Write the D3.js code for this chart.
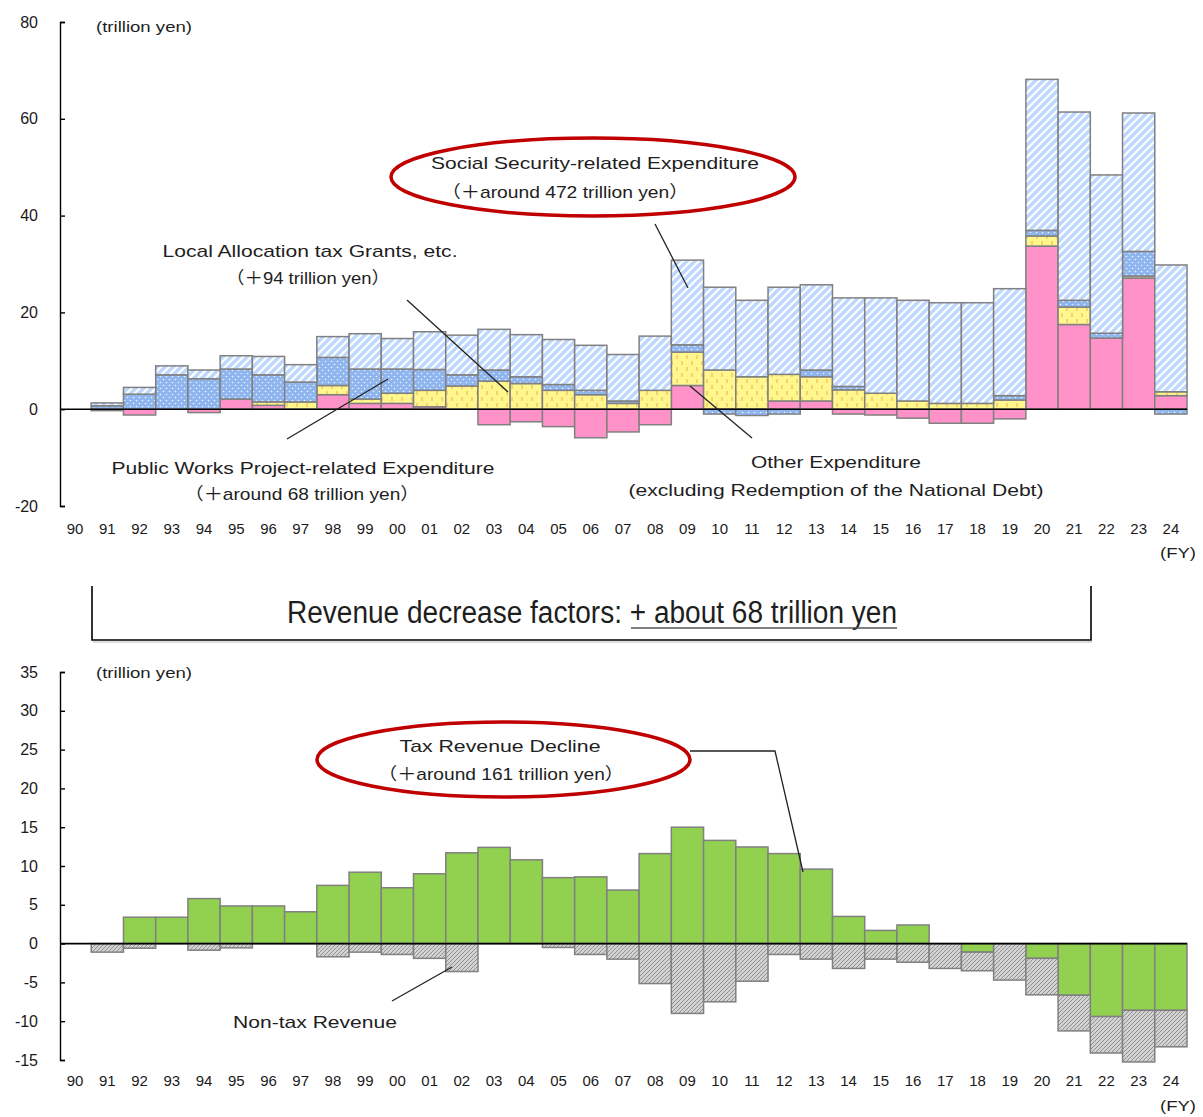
<!DOCTYPE html>
<html><head><meta charset="utf-8">
<script src="https://cdn.jsdelivr.net/npm/d3@7"></script>
<style>
body{margin:0;background:#fff;}
svg{display:block;font-family:"Liberation Sans",Arial,"Noto Sans CJK JP",sans-serif;}
</style></head>
<body>
<svg id="chart" width="1203" height="1117"></svg>
<script>
const years = ["90","91","92","93","94","95","96","97","98","99","00","01","02","03","04","05","06","07","08","09","10","11","12","13","14","15","16","17","18","19","20","21","22","23","24"];
// Expenditure increase factors (trillion yen)
const otherExp    = [0,-0.3,-1.2,0,-0.7,2.1,0.8,0,3.0,1.2,1.2,0.5,0,-3.2,-2.6,-3.6,-5.9,-4.7,-3.2,4.9,0,0,1.7,1.7,-1.0,-1.2,-1.85,-2.9,-2.9,-2.0,33.7,17.5,14.7,27.1,2.8];
const localAlloc  = [0,0,0,0,0,0,0.7,1.5,1.9,0.9,2.1,3.4,4.8,5.8,5.3,3.9,3.0,1.2,3.9,6.9,8.1,6.7,5.5,5.0,4.0,3.3,1.7,1.2,1.2,1.9,2.1,3.6,0,0.4,0.8];
const publicWorks = [0,0.7,3.1,7.1,6.3,6.2,5.6,4.1,5.8,6.2,5.0,4.3,2.3,2.3,1.4,1.2,0.9,0.5,0,1.5,-1.0,-1.3,-1.0,1.4,0.7,0,0,0,0,0.9,1.15,1.4,1.0,5.1,-1.0];
const socialSec   = [0,0.6,1.4,1.85,1.8,2.75,3.8,3.6,4.3,7.3,6.3,7.8,8.2,8.4,8.7,9.3,9.3,9.6,11.2,17.5,17.1,15.8,18.0,17.6,18.3,19.7,20.8,20.8,20.8,22.1,31.2,38.9,32.7,28.6,26.2];
// Revenue decrease factors (trillion yen)
const taxDecline  = [0,0,3.4,3.4,5.8,4.85,4.85,4.1,7.5,9.2,7.2,9.0,11.7,12.4,10.8,8.5,8.6,6.9,11.6,15.0,13.3,12.45,11.6,9.6,3.5,1.7,2.4,0,-1.1,0,-1.9,-6.65,-9.4,-8.6,-8.6];
const nonTax      = [0,-1.1,-0.6,0,-0.85,-0.55,0,0,-1.7,-1.1,-1.4,-1.9,-3.6,0,0,-0.5,-1.4,-2.0,-5.15,-9.0,-7.5,-4.85,-1.4,-2.0,-3.2,-2.0,-2.4,-3.2,-2.4,-4.7,-4.7,-4.6,-4.7,-6.65,-4.7];
const topTicks = [80,60,40,20,0,-20];
const botTicks = [35,30,25,20,15,10,5,0,-5,-10,-15];

const svg = d3.select("#chart");
const defs = svg.append("defs");

// patterns
function pat(id, w, h, bg, draw){
  const p = defs.append("pattern").attr("id",id).attr("patternUnits","userSpaceOnUse").attr("width",w).attr("height",h);
  p.append("rect").attr("width",w).attr("height",h).attr("fill",bg);
  draw(p);
}
pat("pSocial",8,8,"#bed7fc",p=>{
  p.append("path").attr("d","M-2,2 L2,-2 M0,8 L8,0 M6,10 L10,6").attr("stroke","#ffffff").attr("stroke-width",2.2);
});
pat("pPublic",6,6,"#8fb5ef",p=>{
  p.append("circle").attr("cx",1.5).attr("cy",1.5).attr("r",0.8).attr("fill","#eef4ff");
  p.append("circle").attr("cx",4.5).attr("cy",4.5).attr("r",0.8).attr("fill","#eef4ff");
});
pat("pLocal",10,12,"#fff68e",p=>{
  p.append("line").attr("x1",2).attr("x2",2).attr("y1",1).attr("y2",5).attr("stroke","#f2b84a").attr("stroke-width",1.1);
  p.append("line").attr("x1",7).attr("x2",7).attr("y1",7).attr("y2",11).attr("stroke","#f2b84a").attr("stroke-width",1.1);
});
pat("pNonTax",4,4,"#d2d2d2",p=>{
  p.append("path").attr("d","M-1,1 L1,-1 M0,4 L4,0 M3,5 L5,3").attr("stroke","#8a8a8a").attr("stroke-width",0.9);
});

const x = d3.scaleBand().domain(years).range([59,1187]).padding(0);
const yTop = d3.scaleLinear().domain([-20,80]).range([506,22]);
const yBot = d3.scaleLinear().domain([-15,35]).range([1060,672]);

const fill = {other:"#ff93c9", local:"url(#pLocal)", publicW:"url(#pPublic)", social:"url(#pSocial)", tax:"#92d050", nontax:"url(#pNonTax)"};
const fmt = d => String(d);

// ---------- top chart ----------
const topData = years.map((yr,i)=>({yr, other:otherExp[i], local:localAlloc[i], publicW:publicWorks[i], social:socialSec[i]}));
const topStack = d3.stack().keys(["other","local","publicW","social"]).offset(d3.stackOffsetDiverging)(topData);
const gTop = svg.append("g");
topStack.forEach(layer=>{
  gTop.append("g").selectAll("rect").data(layer.filter(d=>d[1]!==d[0])).join("rect")
    .attr("x",d=>x(d.data.yr)).attr("width",x.bandwidth())
    .attr("y",d=>yTop(Math.max(d[0],d[1]))).attr("height",d=>Math.abs(yTop(d[0])-yTop(d[1])))
    .attr("fill",fill[layer.key]).attr("stroke","#808080").attr("stroke-width",1.5);
});
svg.append("line").attr("x1",60).attr("x2",1187).attr("y1",yTop(0)).attr("y2",yTop(0)).attr("stroke","#000").attr("stroke-width",1.6);

const axT = svg.append("g").attr("transform","translate(60,0)")
  .call(d3.axisLeft(yTop).tickValues(topTicks).tickSizeInner(-5).tickSizeOuter(-5).tickPadding(22).tickFormat(fmt));
axT.selectAll("path,line").attr("stroke","#000").attr("stroke-width",1.4);
axT.selectAll("text").attr("font-size",16).attr("fill","#1a1a1a").attr("font-family","Liberation Sans, Arial");

const axXT = svg.append("g").attr("transform","translate(0,520)").call(d3.axisBottom(x).tickSize(0).tickPadding(3));
axXT.select(".domain").remove();
axXT.selectAll("text").attr("font-size",15).attr("fill","#1a1a1a").attr("font-family","Liberation Sans, Arial");

// ---------- bottom chart ----------
const botData = years.map((yr,i)=>({yr, tax:taxDecline[i], nontax:nonTax[i]}));
const botStack = d3.stack().keys(["tax","nontax"]).offset(d3.stackOffsetDiverging)(botData);
const gBot = svg.append("g");
botStack.forEach(layer=>{
  gBot.append("g").selectAll("rect").data(layer.filter(d=>d[1]!==d[0])).join("rect")
    .attr("x",d=>x(d.data.yr)).attr("width",x.bandwidth())
    .attr("y",d=>yBot(Math.max(d[0],d[1]))).attr("height",d=>Math.abs(yBot(d[0])-yBot(d[1])))
    .attr("fill",fill[layer.key]).attr("stroke","#808080").attr("stroke-width",1.5);
});
svg.append("line").attr("x1",60).attr("x2",1187).attr("y1",yBot(0)).attr("y2",yBot(0)).attr("stroke","#000").attr("stroke-width",1.6);

const axB = svg.append("g").attr("transform","translate(60,0)")
  .call(d3.axisLeft(yBot).tickValues(botTicks).tickSizeInner(-5).tickSizeOuter(-5).tickPadding(22).tickFormat(fmt));
axB.selectAll("path,line").attr("stroke","#000").attr("stroke-width",1.4);
axB.selectAll("text").attr("font-size",16).attr("fill","#1a1a1a").attr("font-family","Liberation Sans, Arial");

const axXB = svg.append("g").attr("transform","translate(0,1072)").call(d3.axisBottom(x).tickSize(0).tickPadding(3));
axXB.select(".domain").remove();
axXB.selectAll("text").attr("font-size",15).attr("fill","#1a1a1a").attr("font-family","Liberation Sans, Arial");

// ---------- annotations ----------
function label(cx, cy, str, w, size, family){
  const t = svg.append("text").attr("x",cx).attr("y",cy).attr("dy","0.36em").attr("text-anchor","middle")
    .attr("font-size",size).attr("fill","#1e1e1e")
    .attr("textLength",w).attr("lengthAdjust","spacingAndGlyphs").text(str);
  if (family) t.attr("font-family",family);
  return t;
}
function lead(pts){
  svg.append("path").attr("d",d3.line()(pts)).attr("fill","none").attr("stroke","#222").attr("stroke-width",1.3);
}

label(144,27,"(trillion yen)",96,15);
label(144,673,"(trillion yen)",96,15);
label(1178,553,"(FY)",36,15);
label(1178,1106,"(FY)",36,15);

// leaders (top)
lead([[655,224],[688,288]]);
lead([[407,300],[508,392]]);
lead([[287,439],[388,379]]);
lead([[690,386],[752,438]]);

svg.append("ellipse").attr("cx",593).attr("cy",177).attr("rx",202).attr("ry",39)
  .attr("fill","#fff").attr("stroke","#c00000").attr("stroke-width",3.5);
label(595,163,"Social Security-related Expenditure",328,17);
label(565,192,"（＋around 472 trillion yen）",247,17);

label(310,251,"Local Allocation tax Grants, etc.",295,17);
label(308,278,"（＋94 trillion yen）",164,17);
label(303,468,"Public Works Project-related Expenditure",383,17);
label(302,494,"（＋around 68 trillion yen）",235,17);
label(836,462,"Other Expenditure",170,17);
label(836,490,"(excluding Redemption of the National Debt)",415,17);

// middle bracket box
svg.append("path").attr("d","M92,586 L92,640 L1091,640 L1091,586").attr("fill","none").attr("stroke","#000").attr("stroke-width",1.6);
svg.append("line").attr("x1",93).attr("x2",1092).attr("y1",642).attr("y2",642).attr("stroke","#bbb").attr("stroke-width",1);
label(592,612,"Revenue decrease factors: + about 68 trillion yen",610,31,"Liberation Sans Narrow, Arial Narrow, Liberation Sans, Arial");
svg.append("line").attr("x1",631).attr("x2",897).attr("y1",628).attr("y2",628).attr("stroke","#555").attr("stroke-width",1.5);

// bottom annotations
lead([[690,751],[775,751],[803,872]]);
svg.append("ellipse").attr("cx",503.5).attr("cy",759.5).attr("rx",186.5).attr("ry",37.5)
  .attr("fill","#fff").attr("stroke","#c00000").attr("stroke-width",3.5);
label(500,746,"Tax Revenue Decline",201,17);
label(501,774,"（＋around 161 trillion yen）",246,17);
lead([[392,1001],[452,967]]);
label(315,1022,"Non-tax Revenue",164,17);
</script>
</body></html>
